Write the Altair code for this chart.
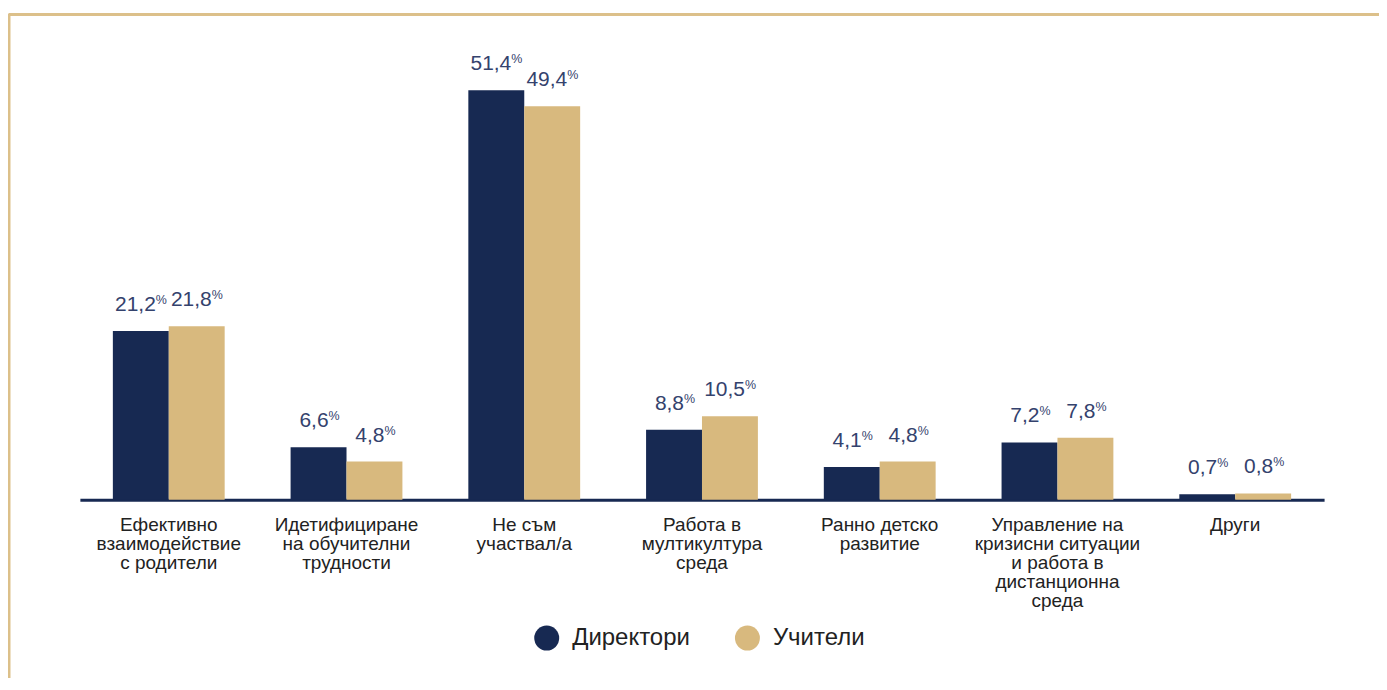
import altair as alt
import pandas as pd

categories = [
    "Ефективно|взаимодействие|с родители",
    "Идетифициране|на обучителни|трудности",
    "Не съм|участвал/а",
    "Работа в|мултикултура|среда",
    "Ранно детско|развитие",
    "Управление на|кризисни ситуации|и работа в|дистанционна|среда",
    "Други",
]
series = ["Директори", "Учители"]
directors = [21.2, 6.6, 51.4, 8.8, 4.1, 7.2, 0.7]
teachers = [21.8, 4.8, 49.4, 10.5, 4.8, 7.8, 0.8]

NAVY = "#172952"
GOLD = "#d8b97e"
FRAME = "#dcc08a"
FONT = "Liberation Sans"

rows = []
for c, d, t in zip(categories, directors, teachers):
    rows.append({"cat": c, "series": series[0], "value": d})
    rows.append({"cat": c, "series": series[1], "value": t})
df = pd.DataFrame(rows)

x = alt.X("cat:N", sort=categories, title=None,
          scale=alt.Scale(paddingInner=0.371, paddingOuter=0.1855),
          axis=alt.Axis(labelExpr="split(datum.label, '|')", labelAngle=0,
                        labelFont=FONT, labelFontSize=19, labelLineHeight=19,
                        labelColor="#222222", labelPadding=16, ticks=False,
                        domainColor=NAVY, domainWidth=3, grid=False,
                        labelBaseline="top"))
xo = alt.XOffset("series:N", sort=series, scale=alt.Scale(paddingInner=0, paddingOuter=0))
y = alt.Y("value:Q", scale=alt.Scale(domain=[0, 51.4], nice=False, zero=True), axis=None)

base = alt.Chart(df).encode(x=x, xOffset=xo)

bars = base.mark_bar(size=56).encode(
    y=y,
    color=alt.Color("series:N", sort=series,
                    scale=alt.Scale(domain=series, range=[NAVY, GOLD]),
                    legend=alt.Legend(title=None, orient="none", direction="horizontal",
                                      legendX=455, legendY=536,
                                      symbolType="circle", symbolSize=625,
                                      symbolStrokeWidth=0, labelFont=FONT,
                                      labelFontSize=24, labelColor="#222222",
                                      labelOffset=13, columnPadding=45, padding=0)),
)

lbl = base.transform_calculate(
    txt="replace(format(datum.value, '.1f'), '.', ',')"
)
TXT_COLOR = "#34426d"
num_long = lbl.transform_filter("datum.value >= 10").mark_text(
    align="right", baseline="alphabetic", dx=15, dy=-20, font=FONT, fontSize=21, color=TXT_COLOR
).encode(y=y, text="txt:N")
pct_long = lbl.transform_filter("datum.value >= 10").mark_text(
    align="left", baseline="alphabetic", dx=15, dy=-27, font=FONT, fontSize=12.5, color=TXT_COLOR
).encode(y=y, text=alt.value("%"))
num_short = lbl.transform_filter("datum.value < 10").mark_text(
    align="right", baseline="alphabetic", dx=10, dy=-20, font=FONT, fontSize=21, color=TXT_COLOR
).encode(y=y, text="txt:N")
pct_short = lbl.transform_filter("datum.value < 10").mark_text(
    align="left", baseline="alphabetic", dx=10, dy=-27, font=FONT, fontSize=12.5, color=TXT_COLOR
).encode(y=y, text=alt.value("%"))

frame_df = pd.DataFrame({"k": [0]})
top_rule = alt.Chart(frame_df).mark_rule(color=FRAME, strokeWidth=3).encode(
    x=alt.value(-71), x2=alt.value(1310), y=alt.value(-76))
left_rule = alt.Chart(frame_df).mark_rule(color=FRAME, strokeWidth=3).encode(
    x=alt.value(-71), y=alt.value(-77), y2=alt.value(595))

chart = alt.layer(top_rule, left_rule, bars, num_long, pct_long, num_short, pct_short).properties(
    width=1246, height=410,
    autosize=alt.AutoSizeParams(type="none"),
    padding={"left": 72, "top": 82, "right": 55, "bottom": 178},
).configure(background="white").configure_view(strokeWidth=0, stroke="transparent")

chart.save("out.html", embed_options={"renderer": "svg", "actions": False})
